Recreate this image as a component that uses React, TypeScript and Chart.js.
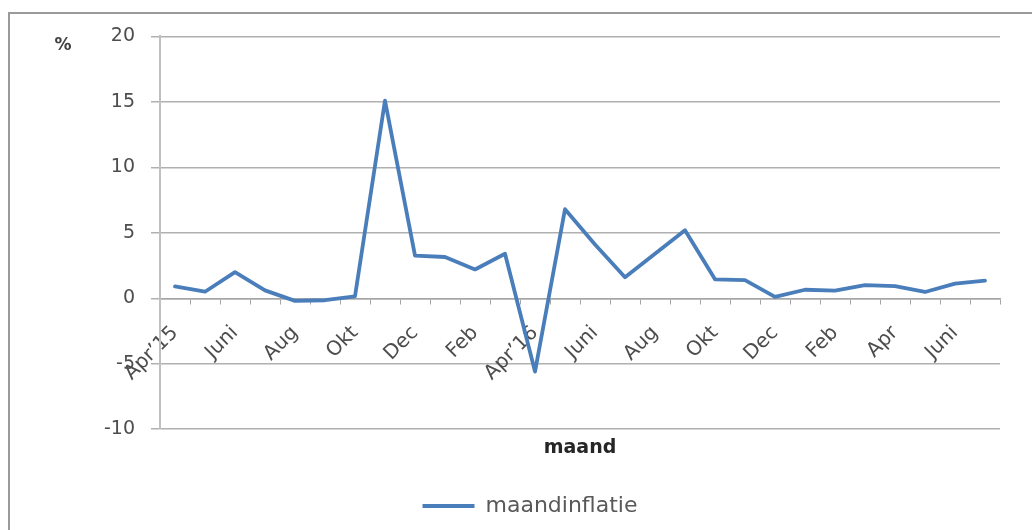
import React, { useEffect, useRef } from 'react';
import { Chart, registerables } from 'chart.js';

Chart.register(...registerables);

const months = [
  'apr 2015', 'mei 2015', 'jun 2015', 'jul 2015', 'aug 2015', 'sep 2015', 'okt 2015',
  'nov 2015', 'dec 2015', 'jan 2016', 'feb 2016', 'mrt 2016', 'apr 2016', 'mei 2016',
  'jun 2016', 'jul 2016', 'aug 2016', 'sep 2016', 'okt 2016', 'nov 2016', 'dec 2016',
  'jan 2017', 'feb 2017', 'mrt 2017', 'apr 2017', 'mei 2017', 'jun 2017', 'jul 2017',
];

const tickLabels = [
  'Apr’15', '', 'Juni', '', 'Aug', '', 'Okt', '', 'Dec', '', 'Feb', '', 'Apr’16', '',
  'Juni', '', 'Aug', '', 'Okt', '', 'Dec', '', 'Feb', '', 'Apr', '', 'Juni', '',
];

const maandinflatie = [
  0.9, 0.5, 2.0, 0.6, -0.2, -0.15, 0.15, 15.1, 3.25, 3.15, 2.2, 3.4, -5.6, 6.8,
  4.1, 1.6, 3.4, 5.2, 1.45, 1.38, 0.1, 0.65, 0.58, 1.0, 0.92, 0.48, 1.12, 1.35,
];

const seriesName = 'maandinflatie';
const xTitle = 'maand';
const yUnit = '%';
const yMin = -10;
const yMax = 20;
const yStep = 5;

const FONT = '"DejaVu Sans", sans-serif';

const unitPlugin = {
  id: 'unitLabel',
  afterDraw(chart: any) {
    const { ctx, chartArea } = chart;
    ctx.save();
    ctx.font = `bold 17px ${FONT}`;
    ctx.fillStyle = '#404040';
    ctx.textAlign = 'center';
    ctx.textBaseline = 'middle';
    ctx.fillText(yUnit, chartArea.left - 97, chartArea.top + 9);
    ctx.restore();
  },
};

export default function App() {
  const canvasRef = useRef<HTMLCanvasElement | null>(null);

  useEffect(() => {
    document.body.style.overflow = 'hidden';
    const canvas = canvasRef.current;
    if (!canvas) return;
    const chart = new Chart(canvas, {
      type: 'line',
      data: {
        labels: months,
        datasets: [
          {
            label: seriesName,
            data: maandinflatie,
            borderColor: '#4a7ebb',
            backgroundColor: '#4a7ebb',
            borderWidth: 3.8,
            pointRadius: 0,
            pointHoverRadius: 0,
            tension: 0,
            borderJoinStyle: 'round',
            borderCapStyle: 'round',
            fill: false,
          },
        ],
      },
      options: {
        animation: false,
        responsive: true,
        maintainAspectRatio: false,
        layout: { padding: { left: 50, right: 32, top: 18, bottom: 4 } },
        plugins: {
          tooltip: { enabled: false },
          title: {
            display: true,
            text: xTitle,
            position: 'bottom',
            fullSize: false,
            weight: 500,
            color: '#262626',
            font: { family: FONT, size: 19, weight: 'bold' },
            padding: { top: 7, bottom: 26 },
          },
          legend: {
            display: true,
            position: 'bottom',
            labels: {
              usePointStyle: true,
              pointStyle: 'line',
              pointStyleWidth: 52,
              color: '#595959',
              font: { family: FONT, size: 22 },
              padding: 10,
            },
          },
        },
        scales: {
          x: {
            position: { y: 0 } as any,
            offset: true,
            grid: {
              display: true,
              drawOnChartArea: false,
              drawTicks: true,
              tickLength: 5,
              offset: true,
              color: '#a6a6a6',
            },
            border: { display: true, color: '#a6a6a6', width: 1.5 },
            ticks: {
              autoSkip: false,
              maxRotation: 45,
              minRotation: 45,
              padding: 18,
              color: '#4d4d4d',
              font: { family: FONT, size: 20 },
              callback: (_v: any, i: number) => tickLabels[i],
            },
          },
          y: {
            min: yMin,
            max: yMax,
            afterFit: (s: any) => {
              s.width = 100;
            },
            grid: {
              color: '#b0b0b0',
              lineWidth: 1.5,
              tickLength: 9,
            },
            border: { display: true, color: '#c0c0c0', width: 2 },
            ticks: {
              stepSize: yStep,
              padding: 16,
              color: '#4d4d4d',
              font: { family: FONT, size: 19 },
            },
          },
        },
      },
      plugins: [unitPlugin],
    } as any);
    return () => chart.destroy();
  }, []);

  return (
    <div
      style={{
        position: 'fixed',
        left: 8,
        top: 12,
        width: 1040,
        height: 530,
        borderLeft: '2px solid #9a9a9a',
        borderTop: '2px solid #9a9a9a',
        background: '#fff',
      }}
    >
      <div style={{ position: 'relative', top: -5, width: 1022, height: 522 }}>
        <canvas ref={canvasRef} />
      </div>
    </div>
  );
}
